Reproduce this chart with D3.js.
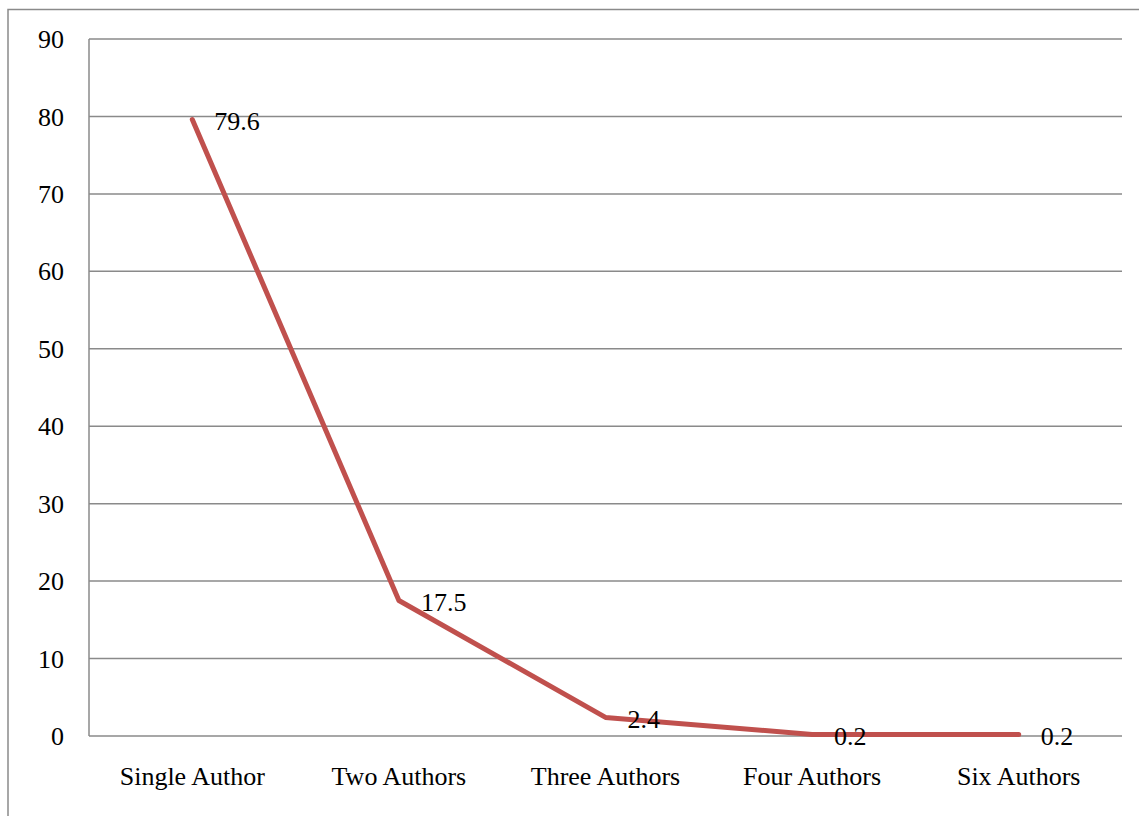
<!DOCTYPE html>
<html>
<head>
<meta charset="utf-8">
<script src="https://cdn.jsdelivr.net/npm/d3@7/dist/d3.min.js"></script>
<style>
  html, body { margin: 0; padding: 0; background: #fff; }
  svg { display: block; }
  text { font-family: "Liberation Serif", "Times New Roman", serif; fill: #000; }
</style>
</head>
<body>
<svg id="chart" width="1139" height="816"></svg>
<script>
// Share of papers by number of authors (%)
const categories = ["Single Author", "Two Authors", "Three Authors", "Four Authors", "Six Authors"];
const values = [79.6, 17.5, 2.4, 0.2, 0.2];
const yTicks = [0, 10, 20, 30, 40, 50, 60, 70, 80, 90];

const svg = d3.select("#chart");
const plot = { left: 89, right: 1122, top: 39, bottom: 736 };

// outer chart frame
svg.append("rect")
  .attr("x", 8).attr("y", 9.5)
  .attr("width", 1150).attr("height", 900)
  .attr("fill", "none")
  .attr("stroke", "#8a8a8a")
  .attr("stroke-width", 1.5);

const x = d3.scalePoint()
  .domain(categories)
  .range([plot.left, plot.right])
  .padding(0.5);

const y = d3.scaleLinear()
  .domain([0, 90])
  .range([plot.bottom, plot.top]);

// horizontal gridlines
svg.append("g")
  .selectAll("line")
  .data(yTicks)
  .join("line")
  .attr("x1", plot.left).attr("x2", plot.right)
  .attr("y1", d => y(d)).attr("y2", d => y(d))
  .attr("stroke", "#8a8a8a")
  .attr("stroke-width", 1.5);

// vertical axis line
svg.append("line")
  .attr("x1", plot.left).attr("x2", plot.left)
  .attr("y1", y(90)).attr("y2", y(0))
  .attr("stroke", "#8a8a8a")
  .attr("stroke-width", 1.5);

// y tick labels
svg.append("g")
  .selectAll("text")
  .data(yTicks)
  .join("text")
  .attr("x", 64)
  .attr("y", d => y(d))
  .attr("dy", "0.35em")
  .attr("text-anchor", "end")
  .style("font-size", "26px")
  .text(d => d);

// category labels
svg.append("g")
  .selectAll("text")
  .data(categories)
  .join("text")
  .attr("x", d => x(d))
  .attr("y", 785)
  .attr("text-anchor", "middle")
  .style("font-size", "26px")
  .text(d => d);

// data line
const pts = categories.map((c, i) => ({ c, v: values[i] }));
svg.append("path")
  .datum(pts)
  .attr("fill", "none")
  .attr("stroke", "#C0504D")
  .attr("stroke-width", 5)
  .attr("stroke-linejoin", "round")
  .attr("stroke-linecap", "round")
  .attr("d", d3.line().x(d => x(d.c)).y(d => y(d.v)));

// value labels
svg.append("g")
  .selectAll("text")
  .data(pts)
  .join("text")
  .attr("x", d => x(d.c) + 22)
  .attr("y", d => y(d.v) + 1)
  .attr("dy", "0.35em")
  .style("font-size", "26px")
  .text(d => d.v);
</script>
</body>
</html>
